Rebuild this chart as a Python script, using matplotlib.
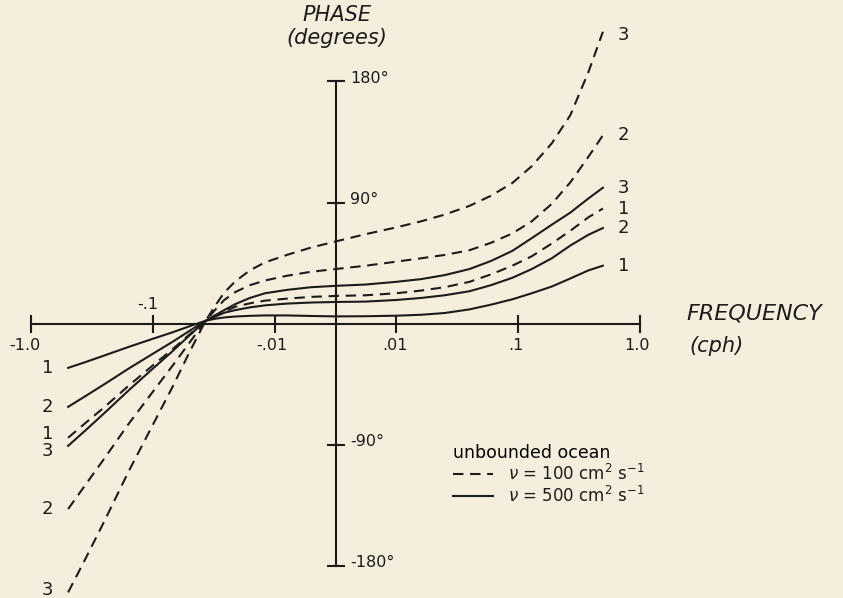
import numpy as np
import matplotlib
matplotlib.use("Agg")
import matplotlib.pyplot as plt

# frequency (cph) and phase (degrees)
freq = [-0.5, -0.36, -0.25, -0.16, -0.1, -0.07, -0.05, -0.037,
        -0.031, -0.026, -0.021, -0.016, -0.012, -0.008, -0.004, 0.0,
        0.005, 0.01, 0.016, 0.025, 0.04, 0.06, 0.09, 0.13, 0.19, 0.27, 0.38, 0.5]

# nu = 100 cm2/s (dashed), curves 1-3
ph100_1 = [-85, -74, -62, -46.5, -31, -19.5, -8, 2,
           6, 9, 12.5, 15, 17, 18.5, 19.8, 20.5,
           21, 22.5, 24.5, 27, 31, 36.5, 43, 50, 59.5, 69, 79, 85.5]
ph100_2 = [-138, -120, -100, -75, -50.5, -32, -14, 2,
           10, 17.5, 23.5, 28.5, 32, 35.5, 38.5, 40.5,
           43, 46, 48.5, 51, 54.5, 60, 67, 76, 89, 105, 124, 140]
ph100_3 = [-200, -175, -146.5, -110.5, -75, -48, -21, 2,
           13, 23, 31.5, 39.5, 45.5, 51, 56.5, 61,
           66.5, 71.5, 76, 81, 87.5, 95, 104.5, 117, 134, 155, 187, 217]

# nu = 500 cm2/s (solid), curves 1-3
ph500_1 = [-33, -28.7, -23.7, -17.5, -11.3, -6.7, -2, 2,
           3.5, 4.5, 5.2, 5.7, 6, 6, 5.6, 5.3,
           5.4, 5.8, 6.5, 7.8, 10.5, 14, 18, 22.5, 27.5, 33.5, 39.5, 43]
ph500_2 = [-62, -54, -45, -33.7, -22.4, -13.9, -5.4, 2,
           5, 8, 10, 12, 13.5, 14.8, 15.6, 16,
           16.3, 17.5, 19, 21, 24, 28.5, 34, 40.5, 48.5, 58, 66, 71]
ph500_3 = [-91, -79.5, -66.4, -50, -33.4, -21, -8.7, 2,
           6, 10, 14.5, 19, 22.5, 25, 27, 28,
           29, 31, 33, 36, 40.5, 46.5, 54, 63.5, 73.5, 82.5, 93, 101]

xticks = [-1.0, -0.1, -0.01, 0.01, 0.1, 1.0]
xticklabels = ["-1.0", "-.1", "-.01", ".01", ".1", "1.0"]
yticks = [180, 90, -90, -180]
yticklabels = ["180\u00b0", "90\u00b0", "-90\u00b0", "-180\u00b0"]

paper = "#f5eedc"
ink = "#1c1c1c"
plt.rcParams["font.family"] = "DejaVu Sans"

fig = plt.figure(figsize=(8.43, 5.98), dpi=100, facecolor=paper)
ax = fig.add_axes([0, 0, 1, 1], facecolor=paper)
ax.set_xscale("symlog", linthresh=0.01, linscale=0.45)

# pixel layout: -1.0 at x=31.5, 1.0 at x=639.5 ; 0 deg at y=323.5, 121 px per 90 deg
tr = ax.xaxis.get_transform()
t_lo, t_hi = tr.transform(np.array([-1.0, 1.0]))
b = (639.5 - 31.5) / (t_hi - t_lo)
lims = tr.inverted().transform(np.array([t_lo - 31.5 / b, t_lo + (843 - 31.5) / b]))
ax.set_xlim(lims[0], lims[1])
ax.set_ylim(-(598 - 323.5) * 90 / 121, 323.5 * 90 / 121)

dash = (5, 3.2)
curves = [
    (ph100_1, "1", "--", (15, 0), (-15, 3)),
    (ph100_2, "2", "--", (15, 0), (-15, 0)),
    (ph100_3, "3", "--", (15, -2), (-15, 2)),
    (ph500_1, "1", "-", (15, 0), (-15, 0)),
    (ph500_2, "2", "-", (15, 0), (-15, 0)),
    (ph500_3, "3", "-", (15, 0), (-15, -3.5)),
]
for i, (ph, num, ls, off_r, off_l) in enumerate(curves):
    lab = None
    if i == 0:
        lab = r"$\nu$ = 100 cm$^2$ s$^{-1}$"
    if i == 3:
        lab = r"$\nu$ = 500 cm$^2$ s$^{-1}$"
    line, = ax.plot(freq, ph, color=ink, lw=1.5, ls=ls, label=lab,
                    solid_joinstyle="round")
    if ls == "--":
        line.set_dashes(dash)
    ax.annotate(num, (freq[-1], ph[-1]), xytext=off_r, textcoords="offset points",
                ha="center", va="center", fontsize=13, color=ink)
    ax.annotate(num, (freq[0], ph[0]), xytext=off_l, textcoords="offset points",
                ha="center", va="center", fontsize=13, color=ink)

# axes through the origin
for s in ["top", "right"]:
    ax.spines[s].set_visible(False)
ax.spines["bottom"].set_position(("data", 0))
ax.spines["left"].set_position(("data", 0))
ax.spines["bottom"].set_bounds(-1.0, 1.0)
ax.spines["left"].set_bounds(-180, 180)
for s in ["bottom", "left"]:
    ax.spines[s].set_linewidth(1.5)
    ax.spines[s].set_color(ink)
ax.set_xticks(xticks)
ax.set_yticks(yticks)
ax.xaxis.set_minor_locator(matplotlib.ticker.NullLocator())
ax.tick_params(axis="both", direction="inout", length=13, width=1.5, color=ink,
               labelbottom=False, labelleft=False)

# tick labels, hand placed like the original lettering
xoff = [(-5, -15.5), (-3.5, 14), (-2, -15.5), (-1, -15.5), (-1.5, -15.5), (-2, -15.5)]
for v, t, o in zip(xticks, xticklabels, xoff):
    ax.annotate(t, (v, 0), xytext=o, textcoords="offset points",
                ha="center", va="center", fontsize=11.5, color=ink)
for v, t in zip(yticks, yticklabels):
    ax.annotate(t, (0, v), xytext=(10.5, 2), textcoords="offset points",
                ha="left", va="center", fontsize=11.5, color=ink)

ax.annotate("PHASE", (0, 180), xytext=(1, 48), textcoords="offset points",
            ha="center", va="center", fontsize=15, style="italic", color=ink)
ax.annotate("(degrees)", (0, 180), xytext=(1, 31), textcoords="offset points",
            ha="center", va="center", fontsize=15, style="italic", color=ink)
ax.annotate("FREQUENCY", (1.0, 0), xytext=(34, 7), textcoords="offset points",
            ha="left", va="center", fontsize=16, style="italic", color=ink)
ax.annotate("(cph)", (1.0, 0), xytext=(36, -16), textcoords="offset points",
            ha="left", va="center", fontsize=15, style="italic", color=ink)

leg = ax.legend(loc="upper left", bbox_to_anchor=(0.528, 0.272), frameon=False,
                title="unbounded ocean", fontsize=12, title_fontsize=12.5,
                handlelength=2.4, handletextpad=0.9, labelspacing=0.12,
                borderpad=0, alignment="left")
for t in leg.get_texts():
    t.set_color(ink)

fig.savefig("out.png", dpi=100, facecolor=paper)
